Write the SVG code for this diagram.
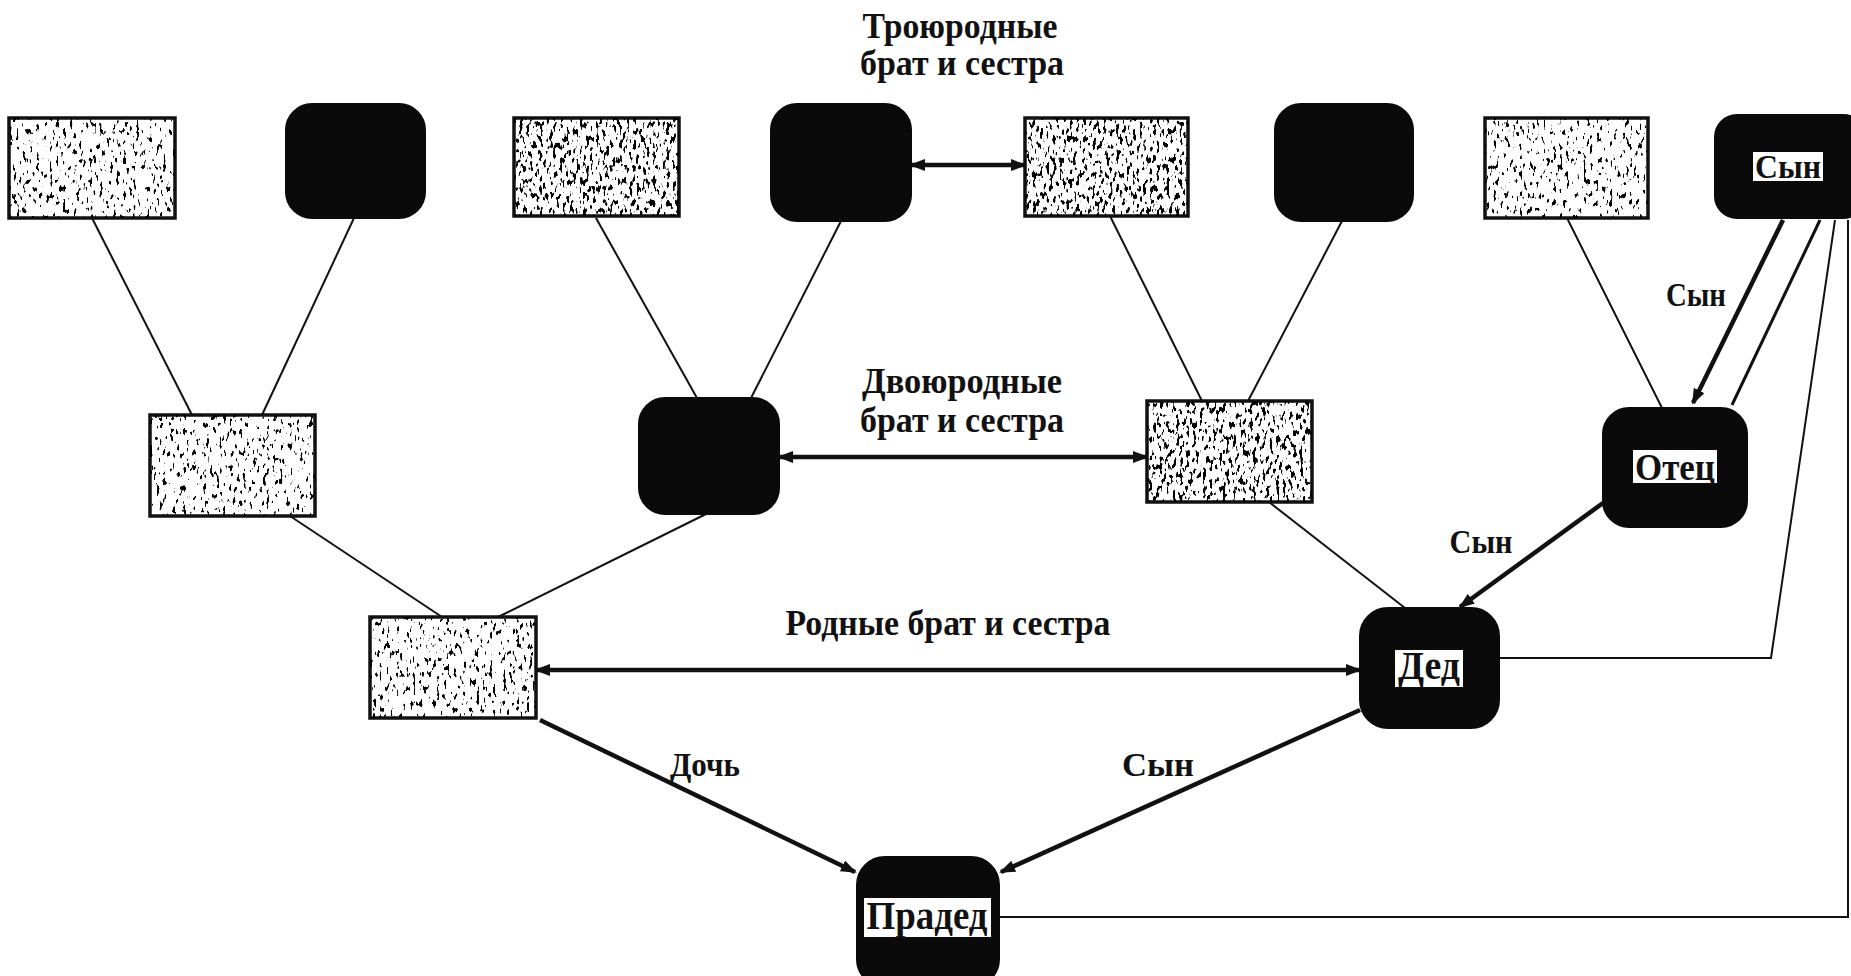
<svg xmlns="http://www.w3.org/2000/svg" width="1851" height="976" viewBox="0 0 1851 976">
<style>
.lt{fill:#fff;stroke:#111;stroke-width:3.5}
.dk{fill:#0a0a0a;stroke:#0a0a0a;stroke-width:2}
.thin{stroke:#111;stroke-width:2;fill:none}
.thick{stroke:#111;stroke-width:4.5;fill:none}
.t{font-family:"Liberation Serif",serif;font-weight:bold;fill:#111;text-anchor:middle}
.lb{fill:#fff}
</style>
<defs>
<filter id="sp1" x="0" y="0" width="1" height="1">
<feTurbulence type="fractalNoise" baseFrequency="0.3 0.14" numOctaves="2" seed="4"/>
<feColorMatrix type="matrix" values="0 0 0 0 0  0 0 0 0 0  0 0 0 0 0  18 0 0 0 -11.2"/>
<feComposite operator="in" in2="SourceGraphic"/>
</filter>
<filter id="sp2" x="0" y="0" width="1" height="1">
<feTurbulence type="fractalNoise" baseFrequency="0.3 0.14" numOctaves="2" seed="9"/>
<feColorMatrix type="matrix" values="0 0 0 0 0  0 0 0 0 0  0 0 0 0 0  18 0 0 0 -10.2"/>
<feComposite operator="in" in2="SourceGraphic"/>
</filter>
<marker id="ah" markerUnits="userSpaceOnUse" markerWidth="16" markerHeight="12" refX="14" refY="6" orient="auto-start-reverse">
<path d="M0,0 L16,6 L0,12 z" fill="#111"/>
</marker>
</defs>

<g id="connectors">
<line class="thin" x1="92" y1="218" x2="192" y2="415"/>
<line class="thin" x1="354" y1="218" x2="262" y2="415"/>
<line class="thin" x1="596" y1="218" x2="697" y2="398"/>
<line class="thin" x1="841" y1="221" x2="751" y2="398"/>
<line class="thin" x1="1110" y1="216" x2="1202" y2="401"/>
<line class="thin" x1="1342" y1="221" x2="1248" y2="401"/>
<line class="thin" x1="1567" y1="218" x2="1662" y2="408"/>
<line class="thin" x1="287" y1="514" x2="442" y2="617"/>
<line class="thin" x1="706" y1="514" x2="498" y2="617"/>
<line class="thin" x1="1269" y1="502" x2="1405" y2="608"/>
<line class="thick" x1="911" y1="165" x2="1025" y2="165" marker-start="url(#ah)" marker-end="url(#ah)"/>
<line class="thick" x1="779" y1="457" x2="1147" y2="457" marker-start="url(#ah)" marker-end="url(#ah)"/>
<line class="thick" x1="536" y1="670" x2="1360" y2="670" marker-start="url(#ah)" marker-end="url(#ah)"/>
<line class="thick" x1="540" y1="720" x2="855" y2="872" marker-end="url(#ah)"/>
<line class="thick" x1="1360" y1="710" x2="1001" y2="872" marker-end="url(#ah)"/>
<line class="thick" x1="1603" y1="503" x2="1460" y2="607" marker-end="url(#ah)"/>
<line class="thick" x1="1783" y1="220" x2="1693" y2="403" marker-end="url(#ah)"/>
<line class="thin" x1="1820" y1="220" x2="1732" y2="405" style="stroke-width:3"/>
<polyline class="thin" points="1835,220 1771,658 1499,658"/>
<polyline class="thin" points="1848,220 1848,917 999,917"/>
</g>

<g id="n1"><rect class="lt" x="9" y="118" width="166" height="100"/><rect x="9" y="118" width="166" height="100" filter="url(#sp1)"/></g>
<g id="n2"><rect class="dk" x="286" y="104" width="139" height="114" rx="26"/></g>
<g id="n3"><rect class="lt" x="514" y="118" width="165" height="98"/><rect x="514" y="118" width="165" height="98" filter="url(#sp2)"/></g>
<g id="n4"><rect class="dk" x="771" y="104" width="140" height="117" rx="26"/></g>
<g id="n5"><rect class="lt" x="1025" y="118" width="163" height="98"/><rect x="1025" y="118" width="163" height="98" filter="url(#sp2)"/></g>
<g id="n6"><rect class="dk" x="1275" y="104" width="138" height="117" rx="26"/></g>
<g id="n7"><rect class="lt" x="1485" y="118" width="163" height="100"/><rect x="1485" y="118" width="163" height="100" filter="url(#sp1)"/></g>
<g id="n8"><rect class="dk" x="1715" y="115" width="150" height="103" rx="22"/>
<rect class="lb" x="1753" y="152" width="70" height="29"/><text class="t" x="1788" y="178" font-size="33" textLength="66" lengthAdjust="spacingAndGlyphs">Сын</text></g>

<g id="n9"><rect class="lt" x="150" y="415" width="165" height="101"/><rect x="150" y="415" width="165" height="101" filter="url(#sp1)"/></g>
<g id="n10"><rect class="dk" x="639" y="398" width="140" height="116" rx="26"/></g>
<g id="n11"><rect class="lt" x="1147" y="401" width="165" height="101"/><rect x="1147" y="401" width="165" height="101" filter="url(#sp2)"/></g>
<g id="n12"><rect class="dk" x="1603" y="408" width="144" height="119" rx="26"/>
<rect class="lb" x="1633" y="450" width="84" height="33"/><text class="t" x="1675" y="480" font-size="37" textLength="80" lengthAdjust="spacingAndGlyphs">Отец</text></g>

<g id="n13"><rect class="lt" x="370" y="617" width="166" height="101"/><rect x="370" y="617" width="166" height="101" filter="url(#sp1)"/></g>
<g id="n14"><rect class="dk" x="1360" y="608" width="139" height="120" rx="28"/>
<rect class="lb" x="1395" y="650" width="68" height="37"/><text class="t" x="1429" y="679" font-size="40" textLength="62" lengthAdjust="spacingAndGlyphs">Дед</text></g>
<g id="n15"><rect class="dk" x="857" y="857" width="142" height="130" rx="28"/>
<rect class="lb" x="864" y="898" width="127" height="39"/><text class="t" x="927" y="929" font-size="39" textLength="121" lengthAdjust="spacingAndGlyphs">Прадед</text></g>

<g id="labels">
<text class="t" x="960" y="38" font-size="35" textLength="195" lengthAdjust="spacingAndGlyphs">Троюродные</text>
<text class="t" x="962" y="75" font-size="35" textLength="204" lengthAdjust="spacingAndGlyphs">брат и сестра</text>
<text class="t" x="962" y="393" font-size="35" textLength="200" lengthAdjust="spacingAndGlyphs">Двоюродные</text>
<text class="t" x="962" y="432" font-size="35" textLength="204" lengthAdjust="spacingAndGlyphs">брат и сестра</text>
<text class="t" x="948" y="635" font-size="35" textLength="325" lengthAdjust="spacingAndGlyphs">Родные брат и сестра</text>
<text class="t" x="705" y="776" font-size="33" textLength="70" lengthAdjust="spacingAndGlyphs">Дочь</text>
<text class="t" x="1158" y="776" font-size="33" textLength="72" lengthAdjust="spacingAndGlyphs">Сын</text>
<text class="t" x="1481" y="553" font-size="33" textLength="63" lengthAdjust="spacingAndGlyphs">Сын</text>
<text class="t" x="1696" y="306" font-size="33" textLength="60" lengthAdjust="spacingAndGlyphs">Сын</text>
</g>
</svg>
